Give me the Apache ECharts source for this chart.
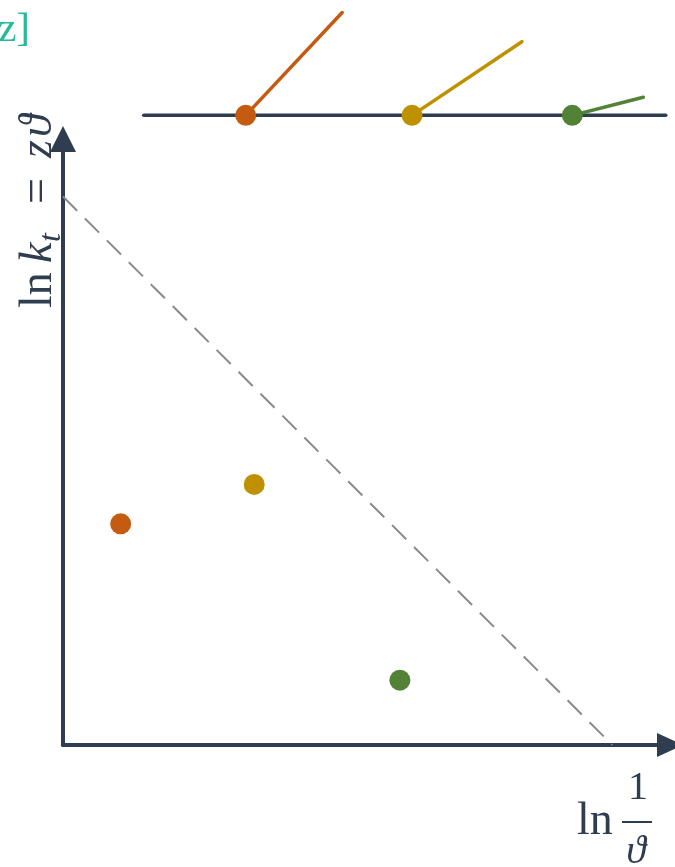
<!DOCTYPE html>
<html lang="en">
<head>
    <meta charset="UTF-8">
    <title>ln k_t = z theta</title>
    <style type="text/css">
        body {
            margin: 0;
            background: #fff;
        }

        #chart {
            width: 675px;
            height: 867px;
        }
    </style>
    <script type="text/javascript" src="https://cdn.jsdelivr.net/npm/echarts@6/dist/echarts.min.js"></script>
</head>
<body>
    <div id="chart"></div>
</body>
</html>
<script type="text/javascript">
    // points in the lower panel
    var pointColors = ['#c55a11', '#bf9000', '#538135'];
    var pointsX = [0.95, 3.15, 5.55];
    var pointsY = [3.65, 4.3, 1.07];

    // dashed boundary line
    var boundaryX = [0, 9.05];
    var boundaryY = [9.05, 0];

    // upper panel: base line, dots on it, stems
    var baseLineX = [1.33, 9.93];
    var baseLineY = 1.7;
    var topDotsX = [3.01, 5.75, 8.39];
    var stemEndX = [4.6, 7.56, 9.56];
    var stemEndY = [9.1, 7.0, 3.0];

    var navy = '#2e3d50';
    var serif = "'Liberation Serif', 'DejaVu Serif', serif";

    var chart = echarts.init(document.getElementById('chart'));

    var series = [];

    // dashed line
    var dashData = [];
    for (var i = 0; i < boundaryX.length; i++) {
        dashData.push([boundaryX[i], boundaryY[i]]);
    }
    series.push({
        type: 'line',
        xAxisIndex: 0,
        yAxisIndex: 0,
        data: dashData,
        symbol: 'none',
        silent: true,
        lineStyle: {
            color: '#8a8a8a',
            width: 2,
            type: [20, 11]
        }
    });

    // scatter points
    var ptData = [];
    for (var i = 0; i < pointsX.length; i++) {
        ptData.push({
            value: [pointsX[i], pointsY[i]],
            itemStyle: { color: pointColors[i], opacity: 1 }
        });
    }
    series.push({
        type: 'scatter',
        xAxisIndex: 0,
        yAxisIndex: 0,
        data: ptData,
        symbolSize: 21,
        silent: true
    });

    // upper base line
    series.push({
        type: 'line',
        xAxisIndex: 1,
        yAxisIndex: 1,
        data: [[baseLineX[0], baseLineY], [baseLineX[1], baseLineY]],
        symbol: 'none',
        silent: true,
        lineStyle: { color: navy, width: 3.5, cap: 'round' }
    });

    // stems
    for (var i = 0; i < topDotsX.length; i++) {
        series.push({
            type: 'line',
            xAxisIndex: 1,
            yAxisIndex: 1,
            data: [[topDotsX[i], baseLineY], [stemEndX[i], stemEndY[i]]],
            symbol: 'none',
            silent: true,
            clip: false,
            lineStyle: { color: pointColors[i], width: 3.5, cap: 'round' }
        });
    }

    // dots on base line
    var dotData = [];
    for (var i = 0; i < topDotsX.length; i++) {
        dotData.push({
            value: [topDotsX[i], baseLineY],
            itemStyle: { color: pointColors[i], opacity: 1 }
        });
    }
    series.push({
        type: 'scatter',
        xAxisIndex: 1,
        yAxisIndex: 1,
        data: dotData,
        symbolSize: 21,
        silent: true,
        z: 5
    });

    function mathText(x, y, text, size, italic, align) {
        return {
            type: 'text',
            x: x,
            y: y - 0.3 * size,
            style: {
                text: text,
                fill: navy,
                font: (italic ? 'italic ' : '') + size + 'px ' + serif,
                align: align || 'left',
                verticalAlign: 'middle'
            }
        };
    }

    var option = {
        animation: false,
        grid: [{
            left: 63,
            top: 139,
            right: 5,
            bottom: 122
        }, {
            left: 63,
            top: 0,
            right: 5,
            height: 139
        }],
        xAxis: [{
            type: 'value',
            gridIndex: 0,
            min: 0,
            max: 10,
            axisLine: {
                show: true,
                symbol: ['none', 'triangle'],
                symbolSize: [24, 26],
                lineStyle: { color: navy, width: 4 }
            },
            axisTick: { show: false },
            axisLabel: { show: false },
            splitLine: { show: false }
        }, {
            type: 'value',
            gridIndex: 1,
            min: 0,
            max: 10,
            show: false
        }],
        yAxis: [{
            type: 'value',
            gridIndex: 0,
            min: 0,
            max: 10,
            axisLine: {
                show: true,
                symbol: ['none', 'triangle'],
                symbolSize: [26, 26],
                lineStyle: { color: navy, width: 4 }
            },
            axisTick: { show: false },
            axisLabel: { show: false },
            splitLine: { show: false }
        }, {
            type: 'value',
            gridIndex: 1,
            min: 0,
            max: 10,
            show: false
        }],
        graphic: [{
            // clipped teal text in the corner
            type: 'text',
            x: 30,
            y: 42 - 12,
            style: {
                text: 'ez]',
                fill: '#26b99a',
                font: '41px ' + serif,
                align: 'right',
                verticalAlign: 'middle'
            }
        }, {
            // y axis title, rotated
            type: 'group',
            x: 53,
            y: 308,
            rotation: Math.PI / 2,
            children: [
                mathText(0, 0, 'ln', 46, false),
                mathText(45, 0, 'k', 46, true),
                mathText(66, 8, 't', 32, true),
                mathText(104, 0, '=', 46, false),
                mathText(150, 0, 'z', 46, true),
                mathText(171, 0, 'ϑ', 46, true)
            ]
        },
            // x axis title: ln 1/theta
            mathText(577, 836, 'ln', 46, false),
            mathText(638, 800, '1', 40, false, 'center'),
        {
            type: 'line',
            shape: { x1: 622, y1: 822, x2: 652, y2: 822 },
            style: { stroke: navy, lineWidth: 2 }
        },
            mathText(636, 864, 'ϑ', 40, true, 'center')
        ],
        series: series
    };

    chart.setOption(option);
</script>
